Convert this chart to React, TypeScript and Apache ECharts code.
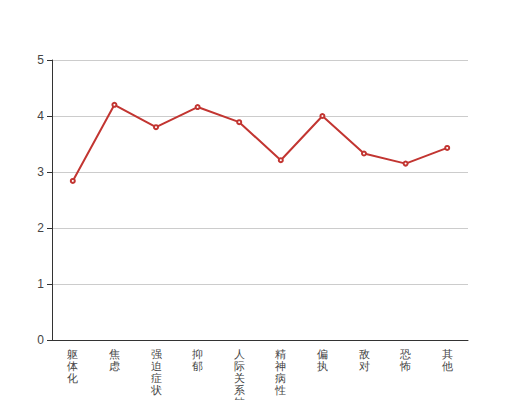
import React, { useEffect, useRef } from "react";
import * as echarts from "echarts";

const categories = ["躯体化", "焦虑", "强迫症状", "抑郁", "人际关系敏感", "精神病性", "偏执", "敌对", "恐怖", "其他"];
const values = [2.84, 4.2, 3.8, 4.16, 3.89, 3.21, 4.0, 3.33, 3.15, 3.43];

export default function App() {
  const ref = useRef<HTMLDivElement>(null);
  useEffect(() => {
    const chart = echarts.init(ref.current!, null, { renderer: "svg" });
    chart.setOption({
      animation: false,
      grid: { left: 52, right: 52, top: 60, bottom: 60, containLabel: false, outerBoundsMode: "none" },
      xAxis: {
        type: "category",
        data: categories,
        boundaryGap: true,
        axisLine: { lineStyle: { color: "#333" } },
        axisTick: { lineStyle: { color: "#333" } },
        axisLabel: {
          color: "#444",
          fontSize: 11,
          lineHeight: 12,
          interval: 0,
          formatter: (v: string) => v.split("").join("\n"),
        },
      },
      yAxis: {
        type: "value",
        min: 0,
        max: 5,
        interval: 1,
        axisLine: { show: true, lineStyle: { color: "#333" } },
        axisTick: { show: true, lineStyle: { color: "#333" } },
        axisLabel: { color: "#444", fontSize: 12 },
        splitLine: { lineStyle: { color: "#ccc" } },
      },
      series: [
        {
          type: "line",
          data: values,
          symbol: "emptyCircle",
          symbolSize: 4,
          itemStyle: { color: "#c23531" },
          lineStyle: { color: "#c23531", width: 2 },
        },
      ],
    });
    return () => chart.dispose();
  }, []);
  return <div ref={ref} style={{ width: 520, height: 400, position: "absolute", left: 0, top: 0 }} />;
}
